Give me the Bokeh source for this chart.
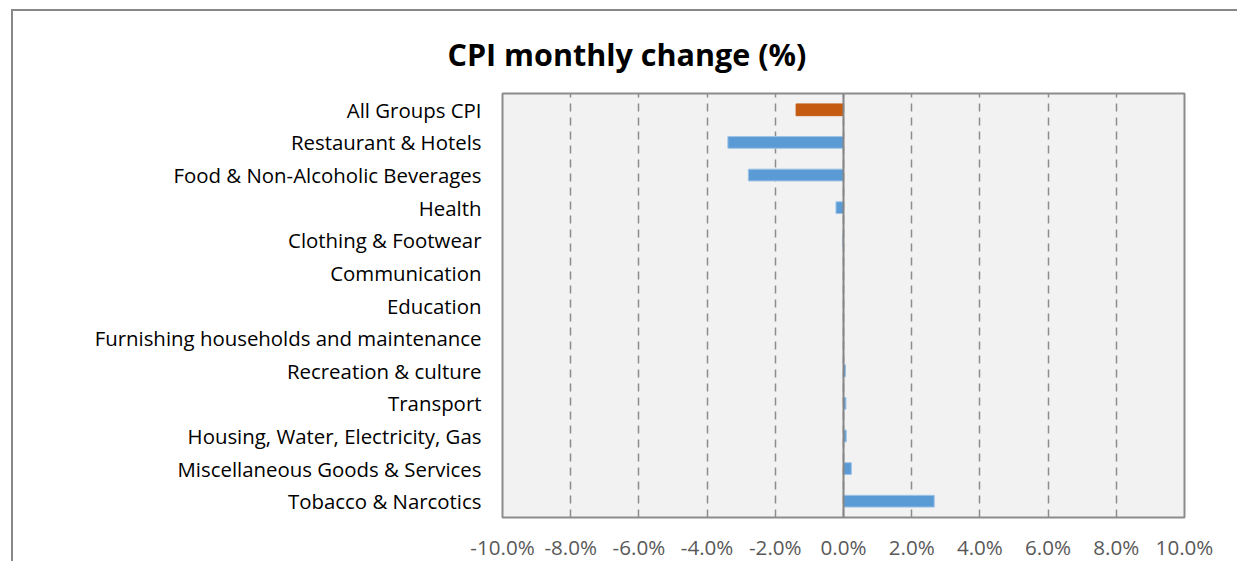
from bokeh.plotting import figure
from bokeh.models import FactorRange, Range1d, FixedTicker, PrintfTickFormatter, Span
from bokeh.embed import file_html
from bokeh.resources import INLINE

categories = [
    "All Groups CPI",
    "Restaurant & Hotels",
    "Food & Non-Alcoholic Beverages",
    "Health",
    "Clothing & Footwear",
    "Communication",
    "Education",
    "Furnishing households and maintenance",
    "Recreation & culture",
    "Transport",
    "Housing, Water, Electricity, Gas",
    "Miscellaneous Goods & Services",
    "Tobacco & Narcotics",
]
values = [-1.39, -3.39, -2.79, -0.22, -0.02, 0.0, 0.0, 0.0, 0.06, 0.07, 0.08, 0.23, 2.66]
colors = ["#c55a11"] + ["#5b9bd5"] * 12
outline_colors = ["#c55a11"] + ["#9dc3e6"] * 12
x_ticks = [-10, -8, -6, -4, -2, 0, 2, 4, 6, 8, 10]

p = figure(
    width=1226, height=552,
    y_range=FactorRange(factors=list(reversed(categories))),
    x_range=Range1d(-10, 10),
    output_backend="svg", toolbar_location=None,
    min_border_left=489, min_border_right=55, min_border_top=81, min_border_bottom=45,
    background_fill_color="#f2f2f2",
    styles={"margin-left": "11px", "margin-top": "9px",
            "border-left": "2px solid #888888", "border-top": "2px solid #888888"},
)
p.title.text = "CPI monthly change (%)"
p.title.text_font = "Open Sans"
p.title.text_font_size = "30.5px"
p.title.text_font_style = "bold"
p.title.text_color = "#000000"
p.title.align = "left"
p.title.offset = -55
p.title.standoff = 38

p.hbar(y=categories, right=values, left=0, height=0.36, fill_color=colors,
       line_color=outline_colors, line_width=1)

p.outline_line_color = "#8c8c8c"
p.outline_line_width = 2

p.xaxis.ticker = FixedTicker(ticks=x_ticks)
p.xaxis.formatter = PrintfTickFormatter(format="%.1f%%")
p.xaxis.axis_line_color = None
p.xaxis.major_tick_line_color = None
p.xaxis.minor_tick_line_color = None
p.xaxis.major_tick_out = 0
p.xaxis.major_tick_in = 0
p.xaxis.minor_tick_out = 0
p.xaxis.major_label_text_font = "Open Sans"
p.xaxis.major_label_text_font_size = "20.6px"
p.xaxis.major_label_text_color = "#595959"
p.xaxis.major_label_standoff = 15

p.yaxis.axis_line_color = None
p.yaxis.major_tick_line_color = None
p.yaxis.minor_tick_line_color = None
p.yaxis.major_tick_out = 0
p.yaxis.major_tick_in = 0
p.yaxis.minor_tick_out = 0
p.yaxis.major_label_text_font = "Open Sans"
p.yaxis.major_label_text_font_size = "20.4px"
p.yaxis.major_label_text_color = "#000000"
p.yaxis.major_label_standoff = 21

p.xgrid.grid_line_color = "#8c8c8c"
p.xgrid.grid_line_dash = "8 6"
p.xgrid.grid_line_width = 1.5
p.ygrid.grid_line_color = None

p.add_layout(Span(location=0, dimension="height", line_color="#868686", line_width=2))

open("out.html", "w").write(file_html(p, INLINE))
